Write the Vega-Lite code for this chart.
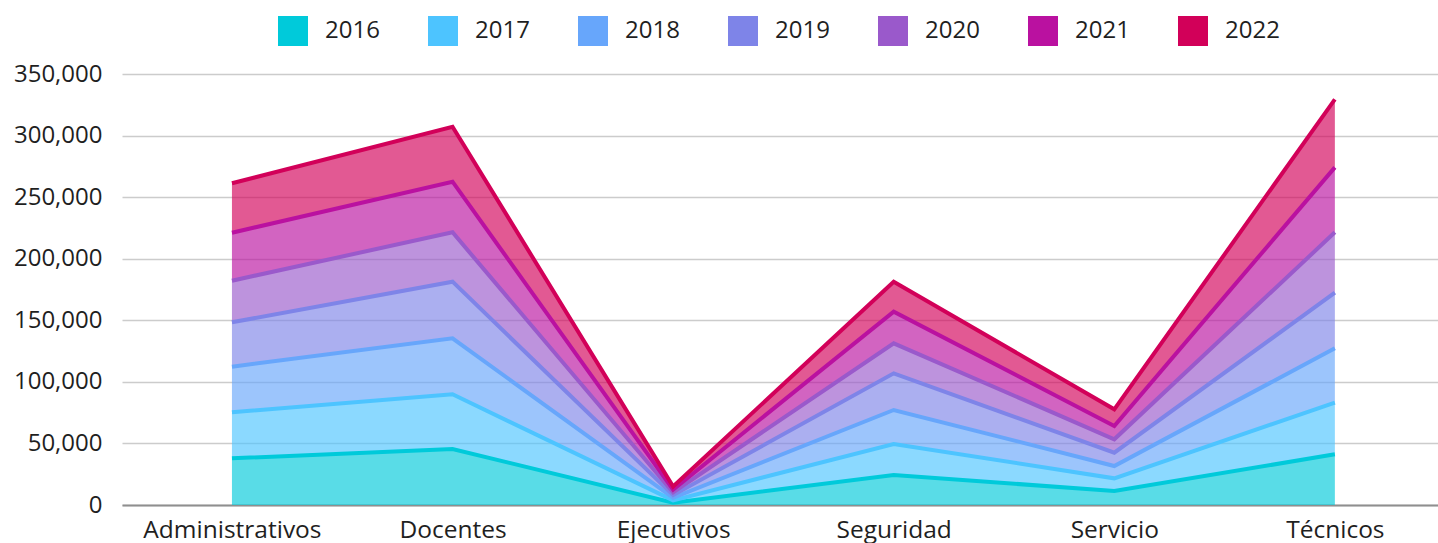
{
  "$schema": "https://vega.github.io/schema/vega-lite/v6.json",
  "width": 1316,
  "height": 431,
  "autosize": {"type": "none"},
  "padding": {"left": 122, "top": 74, "right": 0, "bottom": 38},
  "background": "white",
  "config": {"view": {"stroke": null}, "font": "Open Sans"},
  "data": {
    "values": [
      {"categoria": "Administrativos", "anio": "2016", "valor": 37900},
      {"categoria": "Administrativos", "anio": "2017", "valor": 37360},
      {"categoria": "Administrativos", "anio": "2018", "valor": 37070},
      {"categoria": "Administrativos", "anio": "2019", "valor": 36040},
      {"categoria": "Administrativos", "anio": "2020", "valor": 33780},
      {"categoria": "Administrativos", "anio": "2021", "valor": 38980},
      {"categoria": "Administrativos", "anio": "2022", "valor": 40120},
      {"categoria": "Docentes", "anio": "2016", "valor": 45480},
      {"categoria": "Docentes", "anio": "2017", "valor": 44400},
      {"categoria": "Docentes", "anio": "2018", "valor": 45480},
      {"categoria": "Docentes", "anio": "2019", "valor": 46000},
      {"categoria": "Docentes", "anio": "2020", "valor": 40080},
      {"categoria": "Docentes", "anio": "2021", "valor": 41110},
      {"categoria": "Docentes", "anio": "2022", "valor": 44650},
      {"categoria": "Ejecutivos", "anio": "2016", "valor": 1800},
      {"categoria": "Ejecutivos", "anio": "2017", "valor": 2000},
      {"categoria": "Ejecutivos", "anio": "2018", "valor": 2000},
      {"categoria": "Ejecutivos", "anio": "2019", "valor": 2200},
      {"categoria": "Ejecutivos", "anio": "2020", "valor": 2200},
      {"categoria": "Ejecutivos", "anio": "2021", "valor": 2300},
      {"categoria": "Ejecutivos", "anio": "2022", "valor": 2500},
      {"categoria": "Seguridad", "anio": "2016", "valor": 24360},
      {"categoria": "Seguridad", "anio": "2017", "valor": 25180},
      {"categoria": "Seguridad", "anio": "2018", "valor": 27610},
      {"categoria": "Seguridad", "anio": "2019", "valor": 29780},
      {"categoria": "Seguridad", "anio": "2020", "valor": 24370},
      {"categoria": "Seguridad", "anio": "2021", "valor": 25700},
      {"categoria": "Seguridad", "anio": "2022", "valor": 24360},
      {"categoria": "Servicio", "anio": "2016", "valor": 11370},
      {"categoria": "Servicio", "anio": "2017", "valor": 10280},
      {"categoria": "Servicio", "anio": "2018", "valor": 10020},
      {"categoria": "Servicio", "anio": "2019", "valor": 10820},
      {"categoria": "Servicio", "anio": "2020", "valor": 10840},
      {"categoria": "Servicio", "anio": "2021", "valor": 10820},
      {"categoria": "Servicio", "anio": "2022", "valor": 13550},
      {"categoria": "Técnicos", "anio": "2016", "valor": 41140},
      {"categoria": "Técnicos", "anio": "2017", "valor": 41960},
      {"categoria": "Técnicos", "anio": "2018", "valor": 44130},
      {"categoria": "Técnicos", "anio": "2019", "valor": 45190},
      {"categoria": "Técnicos", "anio": "2020", "valor": 49020},
      {"categoria": "Técnicos", "anio": "2021", "valor": 52770},
      {"categoria": "Técnicos", "anio": "2022", "valor": 55230}
    ]
  },
  "mark": {"type": "area", "fillOpacity": 0.65, "line": {"strokeWidth": 4}},
  "encoding": {
    "x": {
      "field": "categoria",
      "type": "nominal",
      "sort": ["Administrativos", "Docentes", "Ejecutivos", "Seguridad", "Servicio", "Técnicos"],
      "scale": {"type": "point", "padding": 0.483, "align": 0.516},
      "axis": {
        "title": null,
        "labelAngle": 0,
        "ticks": false,
        "grid": false,
        "domain": true,
        "domainColor": "#8f8f8f",
        "domainWidth": 2,
        "labelFontSize": 24.5,
        "labelColor": "#1f1f1f",
        "labelPadding": 13
      }
    },
    "y": {
      "field": "valor",
      "type": "quantitative",
      "stack": "zero",
      "scale": {"domain": [0, 350000]},
      "axis": {
        "title": null,
        "values": [0, 50000, 100000, 150000, 200000, 250000, 300000, 350000],
        "format": ",.0f",
        "grid": true,
        "gridColor": "#cccccc",
        "gridWidth": 1.5,
        "domain": false,
        "ticks": false,
        "labelFontSize": 24,
        "labelColor": "#1f1f1f",
        "labelPadding": 20
      }
    },
    "order": {"field": "anio", "sort": "ascending"},
    "color": {
      "field": "anio",
      "type": "nominal",
      "scale": {
        "domain": ["2016", "2017", "2018", "2019", "2020", "2021", "2022"],
        "range": ["#00CADA", "#4DC4FF", "#67A6FB", "#7E84E8", "#9A59CB", "#BA11A0", "#D20059"]
      },
      "legend": {
        "title": null,
        "orient": "none",
        "legendX": 156,
        "legendY": -58,
        "direction": "horizontal",
        "columns": 7,
        "padding": 0,
        "symbolType": "square",
        "symbolSize": 900,
        "symbolStrokeWidth": 0,
        "symbolOpacity": 1,
        "labelFontSize": 24,
        "labelColor": "#1f1f1f",
        "labelOffset": 17,
        "columnPadding": 48,
        "encode": {"symbols": {"update": {"fillOpacity": {"value": 1}, "opacity": {"value": 1}}}}
      }
    }
  }
}
